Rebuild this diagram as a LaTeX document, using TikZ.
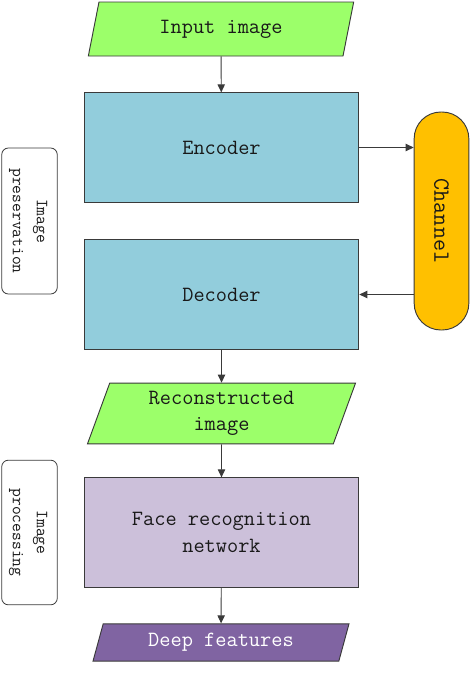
\documentclass[tikz,border=0pt]{standalone}
\usepackage{fontspec}
\usetikzlibrary{shapes.geometric,arrows.meta}

\definecolor{inputgreen}{HTML}{9CFF6A}
\definecolor{codecblue}{HTML}{92CDDC}
\definecolor{chanorange}{HTML}{FFC000}
\definecolor{netlilac}{HTML}{CCC0DA}
\definecolor{featpurple}{HTML}{8064A2}
\definecolor{edgegray}{HTML}{3A3A3A}

\begin{document}
\begin{tikzpicture}[x=0.75pt,y=-0.75pt,
    every node/.style={font=\ttfamily\fontsize{16.3}{20}\selectfont, text=black!90},
    io/.style={trapezium, trapezium left angle=63, trapezium right angle=117,
      trapezium stretches body, draw=edgegray, line width=0.7pt, inner sep=1pt, align=center},
    block/.style={rectangle, draw=edgegray, line width=0.7pt,
      minimum width=206pt, minimum height=82pt, align=center},
    side/.style={rectangle, rounded corners=5pt, draw=edgegray, line width=0.6pt,
      minimum width=41pt, font=\ttfamily\fontsize{12.8}{17}\selectfont},
    arr/.style={-{Triangle[length=6pt,width=5.5pt]}, draw=edgegray, line width=0.7pt}]
                    \useasboundingbox (0,0) rectangle (470,696);

                    \node[io, fill=inputgreen, minimum width=199pt, minimum height=40.5pt] (in) at (221,29) {Input image};
                    \node[block, fill=codecblue] (enc) at (221.5,147.5) {Encoder};
                    \node[block, fill=codecblue] (dec) at (221.5,294.5) {Decoder};
                    \node[io, fill=inputgreen, trapezium left angle=65, trapezium right angle=115,
                      minimum width=201pt, minimum height=45.5pt] (rec) at (221.5,413.5) {Reconstructed\\image};
                    \node[block, fill=netlilac] (face) at (221.5,532.5) {Face recognition\\network};
                    \node[io, fill=featpurple, text=white, trapezium left angle=64, trapezium right angle=116,
                      minimum width=192pt, minimum height=28pt] (feat) at (221,642.5) {Deep features};

                    \node[rectangle, rounded corners=20pt, draw=edgegray, line width=0.7pt, fill=chanorange,
                      minimum width=41pt, minimum height=163.5pt, font=\ttfamily\fontsize{17.5}{20}\selectfont] (chan) at (441.5,221)
                      {\rotatebox{-90}{Channel}};

                    \node[side, minimum height=109.5pt] (pres) at (29.5,221)
                      {\rotatebox{-90}{\begin{tabular}{@{}c@{}}Image\\[1pt]preservation\end{tabular}}};
                    \node[side, minimum height=108.5pt] (proc) at (29.5,532.5)
                      {\rotatebox{-90}{\begin{tabular}{@{}c@{}}Image\\[1pt]processing\end{tabular}}};

                    \path (in) edge[arr] (enc);
                    \path (dec) edge[arr] (rec);
                    \path (rec) edge[arr] (face);
                    \path (face) edge[arr] (feat);
                    \path (enc.east) edge[arr] (enc.east -| chan.west);
                    \path (dec.east -| chan.west) edge[arr] (dec.east);
                \end{tikzpicture}
\end{document}
